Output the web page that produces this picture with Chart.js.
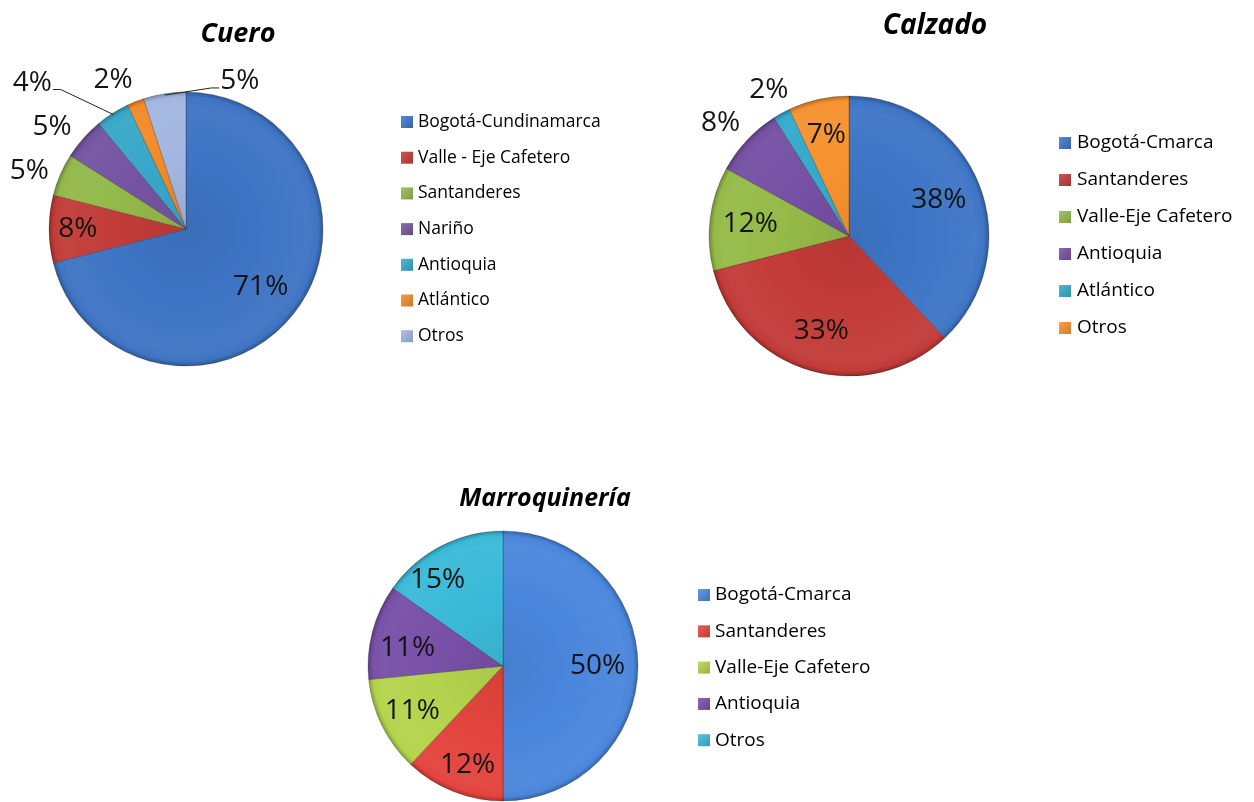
<!DOCTYPE html>
<html><head><meta charset="utf-8">
<script src="https://cdn.jsdelivr.net/npm/chart.js@4.4.1/dist/chart.umd.min.js"></script>
<style>
html,body{margin:0;padding:0;background:#fff;}
#wrap{position:relative;width:1254px;height:802px;overflow:hidden;}
#wrap canvas{position:absolute;left:0;top:0;}
</style>
</head><body>
<div id="wrap">
<canvas id="c1" width="1254" height="802"></canvas>
<canvas id="c2" width="1254" height="802"></canvas>
<canvas id="c3" width="1254" height="802"></canvas>
</div>
<script>
// ---------- DATA ----------
const cueroTitle = 'Cuero';
const cueroLabels = ['Bogotá-Cundinamarca','Valle - Eje Cafetero','Santanderes','Nariño','Antioquia','Atlántico','Otros'];
const cueroValues = [71, 8, 5, 5, 4, 2, 5];

const calzadoTitle = 'Calzado';
const calzadoLabels = ['Bogotá-Cmarca','Santanderes','Valle-Eje Cafetero','Antioquia','Atlántico','Otros'];
const calzadoValues = [38, 33, 12, 8, 2, 7];

const marroTitle = 'Marroquinería';
const marroLabels = ['Bogotá-Cmarca','Santanderes','Valle-Eje Cafetero','Antioquia','Otros'];
const marroValues = [50, 12, 11.4, 11.4, 15.2];

// ---------- STYLE ----------
const cueroColors = ['#3e74c4','#c23c38','#93b84a','#7454a2','#38a8c8','#f28a28','#a2b6e0'];
const calzadoColors = ['#3e75c6','#c23b38','#95ba48','#7650a4','#34aacc','#f7922f'];
const marroColors = ['#4a86dc','#e3443d','#b4d34c','#7850a8','#3abad8'];

// label placement: r = fraction of radius, da = angular nudge (deg), leader line
const cueroPlace = [{r:0.69},{r:0.79},{r:1.22,da:-3},{r:1.23,da:-4},{r:1.55,da:-14,leader:true},{r:1.21,da:-4.5},{r:1.15,da:29,leader:true}];
const calzadoPlace = [{r:0.69},{r:0.71},{r:0.71},{r:1.22,da:-2},{r:1.19},{r:0.74}];
const marroPlace = [{r:0.70},{r:0.78,da:-2},{r:0.75},{r:0.72,da:-4},{r:0.80,da:-10}];

const FONT = "'Open Sans', 'DejaVu Sans', sans-serif";
const W = 1254, H = 802;

function shade(hex, f) {
  const n = parseInt(hex.slice(1), 16);
  let r = (n >> 16) & 255, g = (n >> 8) & 255, b = n & 255;
  const t = f < 0 ? 0 : 255, p = Math.abs(f);
  r = Math.round(r + (t - r) * p); g = Math.round(g + (t - g) * p); b = Math.round(b + (t - b) * p);
  return 'rgb(' + r + ',' + g + ',' + b + ')';
}

function sliceFill(colors) {
  return function(c) {
    const chart = c.chart, a = chart.chartArea;
    const base = colors[c.dataIndex];
    if (!a) return base;
    const cx = (a.left + a.right) / 2, cy = (a.top + a.bottom) / 2;
    const R = Math.min(a.right - a.left, a.bottom - a.top) / 2;
    const g = chart.ctx.createRadialGradient(cx, cy, 0, cx, cy, R);
    g.addColorStop(0, shade(base, -0.06));
    g.addColorStop(0.5, base);
    g.addColorStop(0.9, shade(base, 0.04));
    g.addColorStop(0.965, base);
    g.addColorStop(1, shade(base, -0.25));
    return g;
  };
}

const decorPlugin = {
  id: 'decor',
  afterDatasetsDraw(chart, args, o) {
    const ctx = chart.ctx;
    const meta = chart.getDatasetMeta(0);
    const vals = chart.data.datasets[0].data;
    const total = vals.reduce((a,b)=>a+b,0);
    ctx.save();
    ctx.font = o.pctFont;
    ctx.textAlign = 'center';
    ctx.textBaseline = 'middle';
    meta.data.forEach((arc, i) => {
      const p = arc.getProps(['x','y','startAngle','endAngle','outerRadius'], true);
      const pl = o.place[i] || {r:0.7};
      const m0 = (p.startAngle + p.endAngle)/2;
      const m = m0 + (pl.da||0)*Math.PI/180;
      const lx = p.x + Math.cos(m)*p.outerRadius*pl.r;
      const ly = p.y + Math.sin(m)*p.outerRadius*pl.r;
      const txt = Math.round(vals[i]/total*100) + '%';
      ctx.fillStyle = '#141414';
      ctx.fillText(txt, lx, ly);
      if (pl.leader) {
        const ax = p.x + Math.cos(m0)*p.outerRadius*0.99;
        const ay = p.y + Math.sin(m0)*p.outerRadius*0.99;
        const w = ctx.measureText(txt).width;
        const side = ax > lx ? 1 : -1;
        const sx = lx + side*(w/2+1);
        const sy = ly + 7;
        ctx.beginPath();
        ctx.strokeStyle = '#222';
        ctx.lineWidth = 1;
        ctx.moveTo(sx, sy);
        ctx.lineTo(sx + side*8, sy);
        ctx.lineTo(ax, ay);
        ctx.stroke();
      }
    });
    // title
    ctx.font = o.titleFont;
    ctx.textAlign = 'center';
    ctx.textBaseline = 'alphabetic';
    ctx.fillStyle = '#000';
    ctx.fillText(o.title, o.titleX, o.titleY);
    // legend
    ctx.font = o.legFont;
    ctx.textAlign = 'left';
    ctx.textBaseline = 'middle';
    const colors = o.colors;
    chart.data.labels.forEach((lab, i) => {
      const y = o.legY + i*o.legDy;
      const s = 12;
      const g = ctx.createLinearGradient(o.legX, y - s/2, o.legX + s, y + s/2);
      g.addColorStop(0, shade(colors[i], 0.15));
      g.addColorStop(1, shade(colors[i], -0.15));
      ctx.fillStyle = g;
      ctx.fillRect(o.legX, y - s/2, s, s);
      ctx.fillStyle = '#000';
      ctx.fillText(lab, o.legX + o.legGap, y);
    });
    ctx.restore();
  }
};

function makePie(id, labels, values, colors, cx, cy, R, place, deco) {
  return new Chart(document.getElementById(id), {
    type: 'pie',
    data: { labels: labels, datasets: [{ data: values, backgroundColor: sliceFill(colors),
      borderColor: 'rgba(0,0,0,0.22)', borderWidth: 1, radius: R }] },
    options: {
      responsive: false, animation: false, devicePixelRatio: 1,
      events: [],
      layout: { padding: { left: cx - R, right: W - cx - R, top: cy - R, bottom: H - cy - R } },
      plugins: { legend: { display: false }, tooltip: { enabled: false },
        decor: Object.assign({ place: place, colors: colors }, deco) }
    },
    plugins: [decorPlugin]
  });
}

makePie('c1', cueroLabels, cueroValues, cueroColors, 186, 229, 137, cueroPlace, {
  title: cueroTitle, titleX: 238, titleY: 42, titleFont: "italic bold 27px " + FONT,
  pctFont: "28px " + FONT, legFont: "17.5px " + FONT,
  legX: 401, legY: 122, legDy: 35.7, legGap: 17 });
makePie('c2', calzadoLabels, calzadoValues, calzadoColors, 849, 236, 140, calzadoPlace, {
  title: calzadoTitle, titleX: 935, titleY: 34, titleFont: "italic bold 28px " + FONT,
  pctFont: "28px " + FONT, legFont: "19px " + FONT,
  legX: 1059, legY: 143, legDy: 37, legGap: 18 });
makePie('c3', marroLabels, marroValues, marroColors, 503, 666, 135, marroPlace, {
  title: marroTitle, titleX: 545, titleY: 506, titleFont: "italic bold 25px " + FONT,
  pctFont: "28px " + FONT, legFont: "19px " + FONT,
  legX: 698, legY: 595, legDy: 36.3, legGap: 17 });
</script>
</body></html>
